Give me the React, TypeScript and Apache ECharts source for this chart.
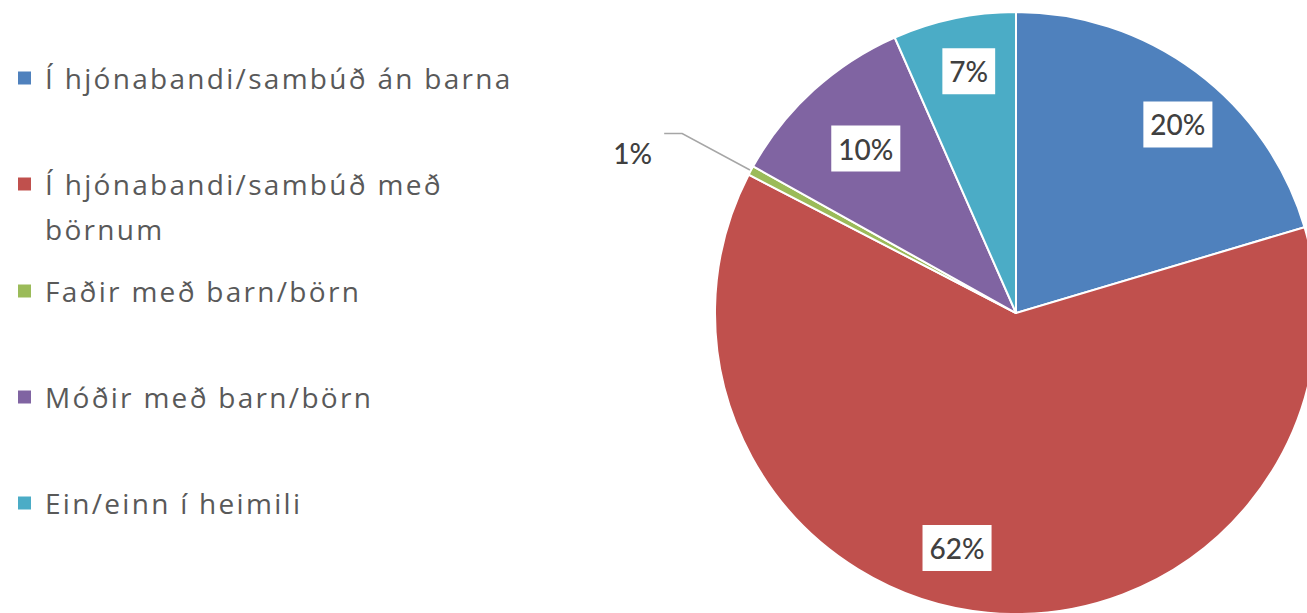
import React, { useEffect, useRef } from "react";
import * as echarts from "echarts";

const categories = [
  "Í hjónabandi/sambúð án barna",
  "Í hjónabandi/sambúð með börnum",
  "Faðir með barn/börn",
  "Móðir með barn/börn",
  "Ein/einn í heimili",
];
const shares = [20.4, 62.2, 0.5, 10.3, 6.6];
const colors = ["#4F81BD", "#C0504D", "#9BBB59", "#8064A2", "#4BACC6"];

const LEGEND_FONT = "'Open Sans', Lato, sans-serif";
const LABEL_FONT = "Lato, 'Noto Sans', sans-serif";
const legendCenters = [78, 184, 291, 397, 503];
const LH = 45;
// label nudges (px) relative to the library's default position, per slice
const labelNudge = [
  [16, 7],
  [-36, -8],
  [-7, 19],
  [14, 16],
  [3, -3],
];

export default function App() {
  const ref = useRef<HTMLDivElement>(null);
  useEffect(() => {
    if (!ref.current) return;
    const chart = echarts.init(ref.current, undefined, { renderer: "svg" });
    const legends = categories.map((name, i) => {
      const wrap = i === 1;
      return {
        data: [{ name, icon: "rect" }],
        orient: "vertical",
        left: 16,
        top: wrap ? legendCenters[i] - LH * 1.5 : legendCenters[i] - LH / 2,
        padding: 0,
        itemWidth: 15,
        itemHeight: 15,
        selectedMode: false,
        formatter: (n: string) => (wrap ? "\n" + n.replace(" börnum", "\nbörnum") : n),
        textStyle: {
          fontFamily: LEGEND_FONT,
          fontSize: 28,
          color: "#595959",
          lineHeight: LH,
          padding: [0, 0, 0, 8],
        },
      };
    });
    const baseData = categories.map((name, i) => ({
      name,
      value: shares[i],
      itemStyle: { color: colors[i] },
    }));
    const overlayData = categories.map((name, i) => {
      const d: any = {
        name,
        value: shares[i],
        itemStyle: { color: "rgba(0,0,0,0)", borderWidth: 0 },
      };
      if (i === 2) {
        d.label = {
          position: "outside",
          backgroundColor: "transparent",
          padding: 0,
        };
        d.labelLine = {
          show: true,
          length: 78,
          length2: 18,
          lineStyle: { color: "#A6A6A6", width: 1.5 },
        };
      }
      return d;
    });
    chart.setOption({
      animation: false,
      backgroundColor: "#ffffff",
      legend: legends,
      series: [
        {
          type: "pie",
          center: [1016, 313],
          radius: 301,
          startAngle: 90,
          clockwise: true,
          data: baseData,
          itemStyle: { borderColor: "#ffffff", borderWidth: 2 },
          label: { show: false },
          labelLine: { show: false },
          emphasis: { disabled: true },
        },
        {
          type: "pie",
          center: [1016, 313],
          radius: [181, 301],
          startAngle: 90,
          clockwise: true,
          silent: true,
          avoidLabelOverlap: false,
          data: overlayData,
          label: {
            show: true,
            position: "inside",
            formatter: (p: any) => Math.round(p.percent) + "%",
            backgroundColor: "#ffffff",
            padding: [9, 7],
            color: "#404040",
            fontFamily: LABEL_FONT,
            fontSize: 28,
            fontWeight: 500,
          },
          labelLayout: (p: any) => {
            const n = labelNudge[p.dataIndex] || [0, 0];
            return { dx: n[0], dy: n[1] };
          },
          labelLine: { show: false },
          emphasis: { disabled: true },
        },
      ],
    });
    return () => chart.dispose();
  }, []);
  return (
    <>
      <style>{`text[style*="Open Sans"]{letter-spacing:2.3px;}`}</style>
      <div
        ref={ref}
        style={{ position: "fixed", left: 0, top: 0, width: 1307, height: 613 }}
      />
    </>
  );
}
